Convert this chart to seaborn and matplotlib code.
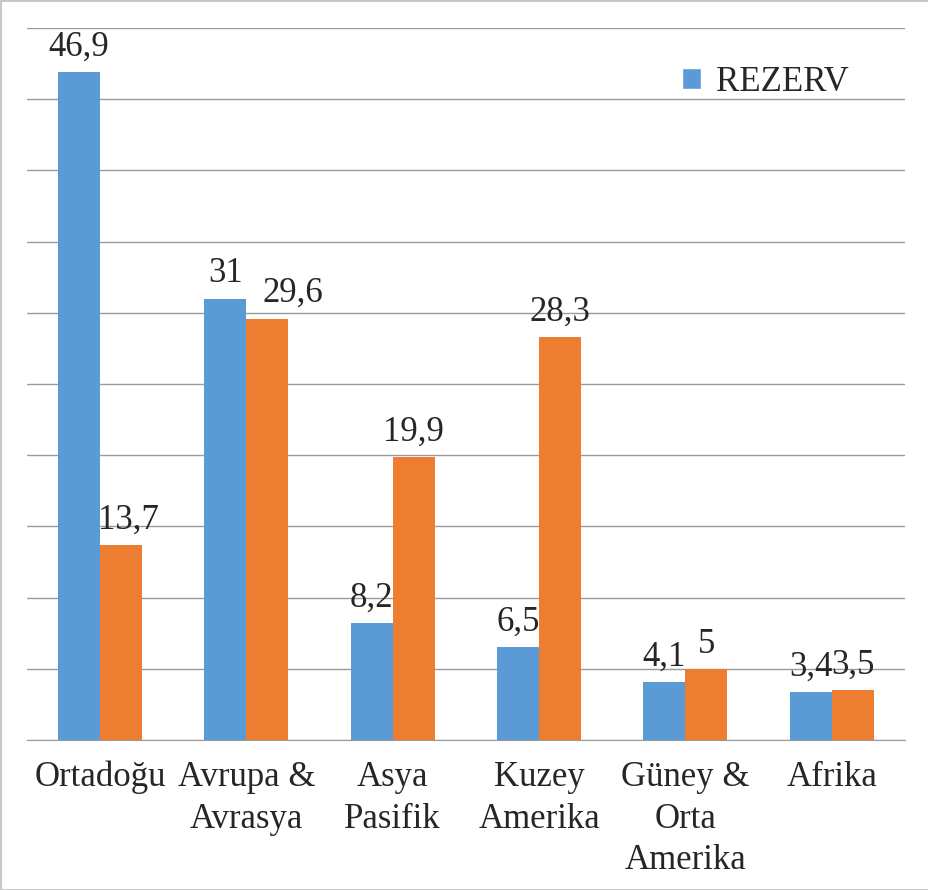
import matplotlib.pyplot as plt
import numpy as np
import pandas as pd
import seaborn as sns
from matplotlib.patches import Patch

# Data
regions = ['Ortadoğu', 'Avrupa &\nAvrasya', 'Asya\nPasifik', 'Kuzey\nAmerika',
           'Güney &\nOrta\nAmerika', 'Afrika']
rezerv = [46.9, 31, 8.2, 6.5, 4.1, 3.4]
uretim = [13.7, 29.6, 19.9, 28.3, 5, 3.5]
series_names = ['REZERV', 'ÜRETİM']
colors = ['#5B9BD5', '#ED7D31']

df = pd.DataFrame({
    'bolge': regions * 2,
    'seri': [series_names[0]] * len(regions) + [series_names[1]] * len(regions),
    'deger': rezerv + uretim,
})

sns.set_style('white')
plt.rcParams['font.family'] = ['Liberation Serif', 'DejaVu Serif']

fig = plt.figure(figsize=(9.29, 8.9), dpi=100, edgecolor='#c8c8c8', linewidth=2)
ax = fig.add_axes([0.029, 0.1685, 0.945, 0.8])

sns.barplot(data=df, x='bolge', y='deger', hue='seri', palette=colors,
            width=0.575, gap=0, saturation=1, legend=False, ax=ax, zorder=3,
            linewidth=0, edgecolor='none')

# Data labels with comma decimals
for k, cont in enumerate(ax.containers):
    vals = [b.get_height() for b in cont]
    texts = ax.bar_label(cont, labels=[f'{v:g}'.replace('.', ',') for v in vals],
                         padding=6, fontsize=25)
    if k == 1:
        # nudge crowded labels like the original
        texts[0].xyann = (5, 6)
        texts[1].xyann = (18, 6)

ax.set_xlim(-0.5, 5.5)
ax.set_ylim(0, 50)
ax.set_yticks(np.arange(0, 51, 5))
ax.set_yticklabels([])
ax.tick_params(axis='y', length=0)
ax.yaxis.grid(True, color='#9a9a9a', linewidth=1)
ax.set_axisbelow(True)

ax.set_xticks(range(len(regions)))
ax.set_xticklabels(regions, fontsize=25, linespacing=1.35)
ax.tick_params(axis='x', which='major', length=0, pad=15)
ax.set_xticks(np.arange(-0.5, 6, 1), minor=True)
ax.tick_params(axis='x', which='minor', length=9, color='#9a9a9a', width=1)
ax.set_xlabel('')
ax.set_ylabel('')

for s in ['left', 'right', 'top']:
    ax.spines[s].set_visible(False)
ax.spines['bottom'].set_color('#9a9a9a')

handles = [Patch(facecolor=colors[0], label=series_names[0])]
ax.legend(handles=handles, loc='center left', bbox_to_anchor=(0.7, 0.9075),
          bbox_transform=fig.transFigure, frameon=False, fontsize=25,
          handlelength=0.55, handleheight=0.55, handletextpad=0.45)

fig.savefig('out.png', dpi=100)
